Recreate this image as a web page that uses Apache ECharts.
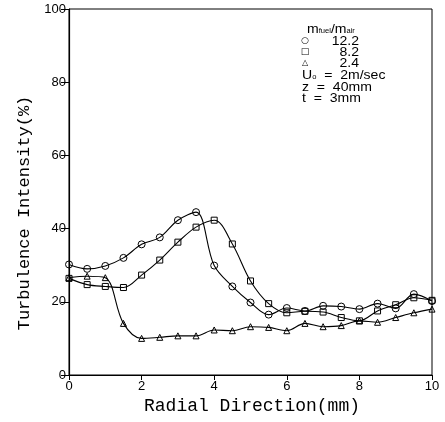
<!DOCTYPE html>
<html>
<head>
<meta charset="utf-8">
<script src="https://cdn.jsdelivr.net/npm/echarts@6/dist/echarts.min.js"></script>
<style>html,body{margin:0;padding:0;background:#fff;}#c{width:445px;height:422px;}</style>
</head>
<body>
<div id="c"></div>
<script>
const radial = [0,0.5,1,1.5,2,2.5,3,3.5,4,4.5,5,5.5,6,6.5,7,7.5,8,8.5,9,9.5,10];
const ratio122 = [30.2,29.0,29.8,32.0,35.7,37.6,42.3,44.5,29.9,24.2,19.8,16.5,18.3,17.5,18.9,18.7,18.0,19.5,18.2,22.1,20.2];
const ratio82 = [26.4,24.7,24.2,23.9,27.3,31.4,36.3,40.4,42.3,35.8,25.7,19.5,17.0,17.4,17.2,15.7,14.8,17.5,19.2,21.1,20.4];
const ratio24 = [26.6,27.0,26.6,14.1,10.0,10.3,10.7,10.7,12.3,12.1,13.2,13.0,12.1,14.1,13.2,13.5,14.8,14.4,15.7,17.0,18.0];
const xTicks = [0,2,4,6,8,10];
const yTicks = [0,20,40,60,80,100];
const ratioLabels = ['12.2','8.2','2.4'];

const chart = echarts.init(document.getElementById('c'), null, {renderer:'canvas'});
function mk(name, data, symbol, size){
  return {
    name, type:'line', data: radial.map((x,i)=>[x,data[i]]),
    smooth:0.35, symbol, symbolSize:size, showSymbol:true,
    lineStyle:{color:'#000', width:1.1},
    itemStyle:{color:'rgba(0,0,0,0)', borderColor:'#000', borderWidth:1},
    emphasis:{disabled:true}, animation:false, z:3
  };
}
const tickFont = {fontFamily:'Liberation Sans', fontSize:13, color:'#000'};
const lf = 'Liberation Sans';
function row(x, y, text, align){
  return {type:'text', x, y, scaleX:1.08, style:{text, fontFamily:lf, fontSize:13, fill:'#000', textAlign:align||'left', textVerticalAlign:'middle'}};
}
chart.setOption({
  animation:false,
  grid:{left:69, right:13, top:9, bottom:47, show:true, borderColor:'#000', borderWidth:1},
  xAxis:{type:'value', min:0, max:10, interval:2,
    axisLine:{lineStyle:{color:'#000', width:1.2}},
    axisTick:{length:5, lineStyle:{color:'#000'}},
    axisLabel:Object.assign({margin:5, formatter:v=>xTicks.includes(v)?String(v):''}, tickFont),
    splitLine:{show:false}
  },
  yAxis:{type:'value', min:0, max:100, interval:20,
    axisLine:{show:true, lineStyle:{color:'#000', width:1.2}},
    axisTick:{show:true, length:8, lineStyle:{color:'#000'}},
    axisLabel:Object.assign({margin:3, formatter:v=>yTicks.includes(v)?String(v):''}, tickFont),
    splitLine:{show:false}
  },
  series:[
    mk(ratioLabels[0], ratio122, 'circle', 7),
    mk(ratioLabels[1], ratio82, 'rect', 6),
    mk(ratioLabels[2], ratio24, 'triangle', 6)
  ],
  graphic:[
    {type:'text', x:252, y:406, style:{text:'Radial Direction(mm)', font:'18px "Liberation Mono"', fill:'#000', textAlign:'center', textVerticalAlign:'middle'}},
    {type:'text', x:24, y:213, rotation:Math.PI/2, style:{text:'Turbulence Intensity(%)', font:'17px "Liberation Mono"', fill:'#000', textAlign:'center', textVerticalAlign:'middle'}},
    {type:'text', x:307, y:29, scaleX:1.08, style:{
      text:'{m|m}{s|fuel}{m|/m}{s|air}', textVerticalAlign:'middle',
      rich:{m:{fontFamily:lf, fontSize:13, fill:'#000'}, s:{fontFamily:lf, fontSize:7, fill:'#000', padding:[5,0,0,0]}}
    }},
    {type:'text', x:305, y:41, style:{text:'○', font:'9px "DejaVu Sans"', fill:'#000', textAlign:'center', textVerticalAlign:'middle'}},
    {type:'text', x:305, y:52, style:{text:'□', font:'9px "DejaVu Sans"', fill:'#000', textAlign:'center', textVerticalAlign:'middle'}},
    {type:'text', x:305, y:63, style:{text:'△', font:'8px "DejaVu Sans"', fill:'#000', textAlign:'center', textVerticalAlign:'middle'}},
    row(359, 41, ratioLabels[0], 'right'),
    row(359, 52, ratioLabels[1], 'right'),
    row(359, 63, ratioLabels[2], 'right'),
    {type:'text', x:302, y:75, scaleX:1.08, style:{
      text:'{m|U}{s|o}{m|  =  2m/sec}', textVerticalAlign:'middle',
      rich:{m:{fontFamily:lf, fontSize:13, fill:'#000'}, s:{fontFamily:lf, fontSize:7, fill:'#000', padding:[5,0,0,0]}}
    }},
    row(302, 87, 'z  =  40mm'),
    row(302, 98.5, 't  =  3mm')
  ]
});
</script>
</body>
</html>
